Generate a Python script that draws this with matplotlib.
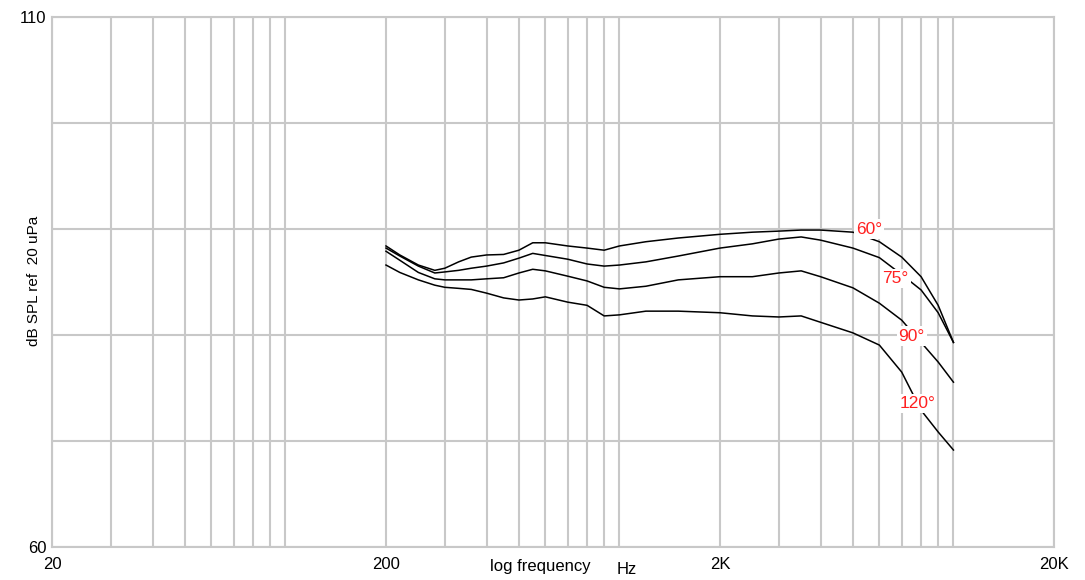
import matplotlib
matplotlib.use('Agg')
import matplotlib.pyplot as plt

# frequency points (Hz) where the curves were read
freq = [200, 220, 250, 280, 300, 330, 360, 400, 450, 500, 550, 600, 700, 800,
        900, 1000, 1200, 1500, 2000, 2500, 3000, 3500, 4000, 5000, 6000, 7000,
        8000, 9000, 10000]

# off-axis responses, dB SPL
spl_60 = [88.4, 87.55, 86.6, 86.1, 86.3, 86.9, 87.35, 87.55, 87.6, 88.0, 88.7,
          88.7, 88.4, 88.2, 88.0, 88.4, 88.8, 89.15, 89.5, 89.7, 89.8, 89.9,
          89.9, 89.7, 88.8, 87.35, 85.5, 82.8, 79.3]
spl_75 = [88.2, 87.45, 86.5, 85.85, 85.95, 86.1, 86.3, 86.5, 86.8, 87.25, 87.7,
          87.5, 87.15, 86.7, 86.5, 86.6, 86.9, 87.45, 88.2, 88.6, 89.05, 89.25,
          88.95, 88.2, 87.3, 85.7, 84.25, 82.1, 79.3]
spl_90 = [87.9, 87.05, 85.9, 85.3, 85.2, 85.2, 85.2, 85.3, 85.4, 85.85, 86.2,
          86.05, 85.55, 85.1, 84.5, 84.35, 84.6, 85.2, 85.5, 85.5, 85.85, 86.05,
          85.5, 84.45, 83.0, 81.4, 79.3, 77.45, 75.55]
spl_120 = [86.6, 85.9, 85.2, 84.7, 84.5, 84.4, 84.3, 83.95, 83.5, 83.3, 83.4,
           83.6, 83.1, 82.8, 81.8, 81.9, 82.25, 82.25, 82.1, 81.8, 81.7, 81.8,
           81.2, 80.2, 79.05, 76.5, 72.9, 70.85, 69.15]

# curve labels: text, frequency, level
label_text = ['60°', '75°', '90°', '120°']
label_freq = [5600, 6700, 7500, 7800]
label_db = [90.0, 85.3, 79.9, 73.5]

grid_freqs = [20, 30, 40, 50, 60, 70, 80, 90, 100,
              200, 300, 400, 500, 600, 700, 800, 900, 1000,
              2000, 3000, 4000, 5000, 6000, 7000, 8000, 9000, 10000, 20000]
decade_labels = {20: '20', 200: '200', 2000: '2K', 20000: '20K'}
y_ticks = [60, 70, 80, 90, 100, 110]

plt.rcParams['font.family'] = ['Liberation Sans', 'DejaVu Sans']

fig = plt.figure(figsize=(10.85, 5.8), dpi=100)
ax = fig.add_axes([52/1085, 33/580, 1002/1085, 530/580])

gray = '#c8c8c8'
for curve in (spl_60, spl_75, spl_90, spl_120):
    ax.plot(freq, curve, color='black', lw=1.1, zorder=3)

for t, f, d in zip(label_text, label_freq, label_db):
    ax.text(f, d, t, color='#ff2020', fontsize=12.5, ha='center', va='center',
            zorder=5, bbox=dict(facecolor='white', edgecolor='none', pad=1.5))

ax.set_xscale('log')
ax.set_xlim(20, 20000)
ax.set_ylim(60, 110)
ax.set_xticks(grid_freqs)
ax.set_xticklabels([decade_labels.get(f, '') for f in grid_freqs])
ax.minorticks_off()
ax.set_yticks(y_ticks)
ax.set_yticklabels(['60', '', '', '', '', '110'])
ax.tick_params(length=0, labelsize=12, pad=4)
ax.tick_params(axis='x', pad=7)
ax.grid(True, color=gray, lw=1.5)
for s in ax.spines.values():
    s.set_color(gray)
    s.set_linewidth(1.5)

fig.text(34/1085, 1 - 281/580, 'dB SPL ref  20 uPa', fontsize=11,
         rotation=90, ha='center', va='center')
fig.text(540/1085, 1 - 567/580, 'log frequency', fontsize=12, ha='center', va='center')
fig.text(627/1085, 1 - 569/580, 'Hz', fontsize=12, ha='center', va='center')

fig.savefig('out.png', dpi=100)
